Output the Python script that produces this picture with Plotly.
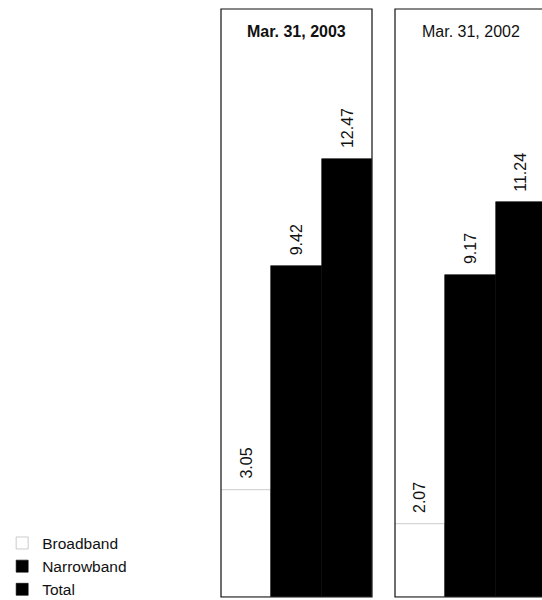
import plotly.graph_objects as go

periods = ["Mar. 31, 2003", "Mar. 31, 2002"]
series = ["Broadband", "Narrowband", "Total"]
broadband = [3.05, 2.07]
narrowband = [9.42, 9.17]
total = [12.47, 11.24]

values = {"Broadband": broadband, "Narrowband": narrowband, "Total": total}
fills = {"Broadband": "#ffffff", "Narrowband": "#000000", "Total": "#000000"}
lines = {"Broadband": "#a8a8a8", "Narrowband": "#000000", "Total": "#000000"}

W, H = 542, 600
FONT = "Liberation Sans, Arial, Helvetica, sans-serif"

fig = go.Figure()

axes = [("x", "y"), ("x2", "y2")]
for p, (xa, ya) in enumerate(axes):
    for s in series:
        fig.add_trace(go.Bar(
            x=[s], y=[values[s][p]], name=s, xaxis=xa, yaxis=ya,
            marker=dict(color=fills[s], line=dict(color=lines[s], width=0.6)),
            width=1.0, showlegend=(p == 0), legendgroup=s,
        ))
        fig.add_annotation(
            x=s, y=values[s][p], xref=xa, yref=ya,
            text=f"{values[s][p]:.2f}", textangle=-90,
            showarrow=False, yanchor="bottom", xanchor="center", yshift=9,
            font=dict(family=FONT, size=16, color="#111"),
        )

# panel domains (pixels -> paper)
p1 = (221 / W, 372 / W)
p2 = (395 / W, 1.0)
ymax = 16.75

fig.update_layout(
    width=W, height=H,
    margin=dict(l=0, r=0, t=9, b=3, autoexpand=False),
    paper_bgcolor="white", plot_bgcolor="white",
    bargap=0, barmode="overlay",
    font=dict(family=FONT, color="#111"),
    xaxis=dict(domain=list(p1), type="category", categoryorder="array",
               categoryarray=series, range=[-0.5, 2.5], showticklabels=False,
               ticks="", showgrid=False, zeroline=False),
    xaxis2=dict(domain=list(p2), type="category", categoryorder="array",
                categoryarray=series, range=[-0.5, -0.5 + (542 - 395) / (151 / 3)],
                showticklabels=False, ticks="", showgrid=False, zeroline=False),
    yaxis=dict(domain=[0, 1], range=[0, ymax], anchor="x", showticklabels=False,
               ticks="", showgrid=False, zeroline=False),
    yaxis2=dict(domain=[0, 1], range=[0, ymax], anchor="x2", showticklabels=False,
                ticks="", showgrid=False, zeroline=False),
    legend=dict(x=0.004, y=-0.016, xanchor="left", yanchor="bottom",
                font=dict(family=FONT, size=15.5, color="#111"),
                tracegroupgap=0, bgcolor="rgba(0,0,0,0)"),
    showlegend=True,
)

# panel frames
for (x0, x1) in [p1, (p2[0], 1.02)]:
    fig.add_shape(type="rect", xref="paper", yref="paper", x0=x0, x1=x1, y0=0, y1=1,
                  line=dict(color="#111", width=1.2), fillcolor="rgba(0,0,0,0)", layer="above")

# panel titles
titles = ["<b>" + periods[0] + "</b>", periods[1]]
for t, (x0, x1) in zip(titles, [p1, (395 / W, 546 / W)]):
    fig.add_annotation(x=(x0 + x1) / 2, y=1, xref="paper", yref="paper",
                       xanchor="center", yanchor="top", yshift=-12, text=t,
                       showarrow=False,
                       font=dict(family=FONT, size=16, color="#111"))

fig.write_html("out.html")
